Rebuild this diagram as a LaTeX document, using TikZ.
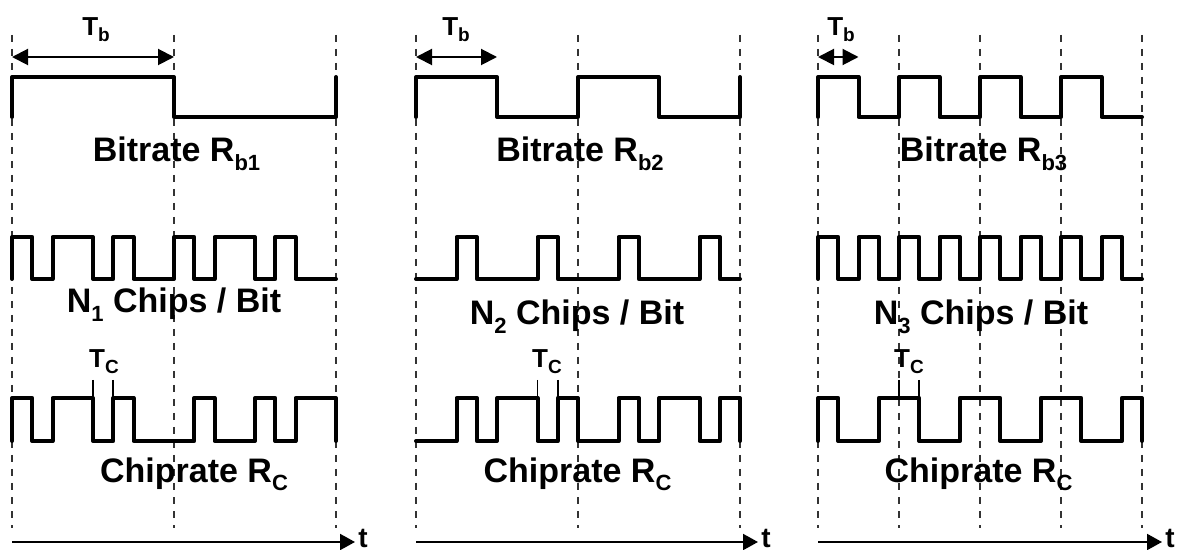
\documentclass[tikz,border=0pt]{standalone}
\usepackage{fontspec}
\setmainfont{Liberation Sans}
\usetikzlibrary{arrows.meta}
% #1 x0, #2 unit width, #3 y high, #4 y low, #5 levels, #6 tail
\newcommand\wavedraw[6]{%
  \draw[wave] (#1,#4) \foreach \lv [count=\i] in {#5} { |- ({#1+\i*#2},{#4+\lv*(#3-#4)}) } #6;
}
\newcommand\msub[1]{\raisebox{-4.5pt}{\fontsize{11}{13}\selectfont #1}}
\newcommand\tsub[1]{\raisebox{-3pt}{\fontsize{9.5}{11}\selectfont #1}}
\begin{document}
\begin{tikzpicture}[x=0.5pt,y=-0.5pt,
  wave/.style={line width=2pt,line cap=round,line join=round},
  gridline/.style={black!80,line width=0.6pt,dash pattern=on 3.5pt off 3.5pt},
  lbl/.style={font=\fontsize{17}{20}\selectfont\bfseries,inner sep=0pt,anchor=base},
  tlbl/.style={font=\fontsize{13}{15}\selectfont\bfseries,inner sep=0pt,anchor=base},
  tlab/.style={font=\fontsize{14}{16}\selectfont\bfseries,inner sep=0pt,anchor=base west},
  spanarrow/.style={line width=1pt,{Triangle[length=8pt,width=8pt]}-{Triangle[length=8pt,width=8pt]}},
  axisarrow/.style={line width=1pt,-{Triangle[length=7.5pt,width=8pt]}},
  tickline/.style={line width=0.8pt}]
\useasboundingbox (0,0) rectangle (1178,550);
\fill[white] (0,0) rectangle (1178,550);
% dashed guides
\foreach \x in {12,174,336,416,578,740,818,899,980,1061,1142}
  \draw[gridline] (\x,35) -- (\x,528);
% ---------- panel 1 ----------
\wavedraw{12}{162}{77}{117}{1,0}{-- (336,77)}
\wavedraw{12}{20.25}{237}{279}{1,0,1,1,0,1,0,0,1,0,1,1,0,1,0,0}{}
\wavedraw{12}{20.25}{398}{441}{1,0,1,1,0,1,0,0,0,1,0,0,1,0,1,1}{-- (336,441)}
\coordinate (tb1a) at (12,57); \coordinate (tb1b) at (174,57);
\draw[spanarrow] (tb1a) -- (tb1b);
\node[tlbl] (tb1) at (96,36) {T\tsub{b}};
\node[lbl] (br1) at (176.5,162) {Bitrate R\msub{b1}};
\node[lbl] (cb1) at (174,313) {N\msub{1} Chips / Bit};
\coordinate (tc1a) at (93,380); \coordinate (tc1b) at (93,398);
\coordinate (tc1c) at (113.25,380); \coordinate (tc1d) at (113.25,398);
\draw[tickline] (tc1a) -- (tc1b); \draw[tickline] (tc1c) -- (tc1d);
\node[tlbl] (tc1) at (104,368) {T\tsub{C}};
\node[lbl] (cr1) at (194,482) {Chiprate R\msub{C}};
\coordinate (ax1a) at (12,542); \coordinate (ax1b) at (355,542);
\draw[axisarrow] (ax1a) -- (ax1b);
\node[tlab] (t1) at (358,547) {t};
% ---------- panel 2 ----------
\wavedraw{416}{81}{77}{117}{1,0,1,0}{-- (740,77)}
\wavedraw{416}{20.25}{237}{279}{0,0,1,0,0,0,1,0,0,0,1,0,0,0,1,0}{}
\wavedraw{416}{20.25}{398}{441}{0,0,1,0,1,1,0,1,0,0,1,0,1,1,0,1}{-- (740,441)}
\coordinate (tb2a) at (416,57); \coordinate (tb2b) at (497,57);
\draw[spanarrow] (tb2a) -- (tb2b);
\node[tlbl] (tb2) at (456,36) {T\tsub{b}};
\node[lbl] (br2) at (580,162) {Bitrate R\msub{b2}};
\node[lbl] (cb2) at (577,325) {N\msub{2} Chips / Bit};
\coordinate (tc2a) at (537.5,380); \coordinate (tc2b) at (537.5,398);
\coordinate (tc2c) at (557.75,380); \coordinate (tc2d) at (557.75,398);
\draw[tickline] (tc2a) -- (tc2b); \draw[tickline] (tc2c) -- (tc2d);
\node[tlbl] (tc2) at (547,368) {T\tsub{C}};
\node[lbl] (cr2) at (577.5,482) {Chiprate R\msub{C}};
\coordinate (ax2a) at (416,542); \coordinate (ax2b) at (758,542);
\draw[axisarrow] (ax2a) -- (ax2b);
\node[tlab] (t2) at (761,547) {t};
% ---------- panel 3 ----------
\wavedraw{818}{40.5}{77}{117}{1,0,1,0,1,0,1,0}{}
\wavedraw{818}{20.25}{237}{279}{1,0,1,0,1,0,1,0,1,0,1,0,1,0,1,0}{}
\wavedraw{818}{20.25}{398}{441}{1,0,0,1,1,0,0,1,1,0,0,1,1,0,0,1}{-- (1142,441)}
\coordinate (tb3a) at (818,57); \coordinate (tb3b) at (858.5,57);
\draw[spanarrow] (tb3a) -- (tb3b);
\node[tlbl] (tb3) at (841,36) {T\tsub{b}};
\node[lbl] (br3) at (983.5,162) {Bitrate R\msub{b3}};
\node[lbl] (cb3) at (981,325) {N\msub{3} Chips / Bit};
\coordinate (tc3a) at (899,380); \coordinate (tc3b) at (899,398);
\coordinate (tc3c) at (919.25,380); \coordinate (tc3d) at (919.25,398);
\draw[tickline] (tc3a) -- (tc3b); \draw[tickline] (tc3c) -- (tc3d);
\node[tlbl] (tc3) at (909,368) {T\tsub{C}};
\node[lbl] (cr3) at (978.5,482) {Chiprate R\msub{C}};
\coordinate (ax3a) at (818,542); \coordinate (ax3b) at (1162,542);
\draw[axisarrow] (ax3a) -- (ax3b);
\node[tlab] (t3) at (1165,547) {t};
\end{tikzpicture}
\end{document}
